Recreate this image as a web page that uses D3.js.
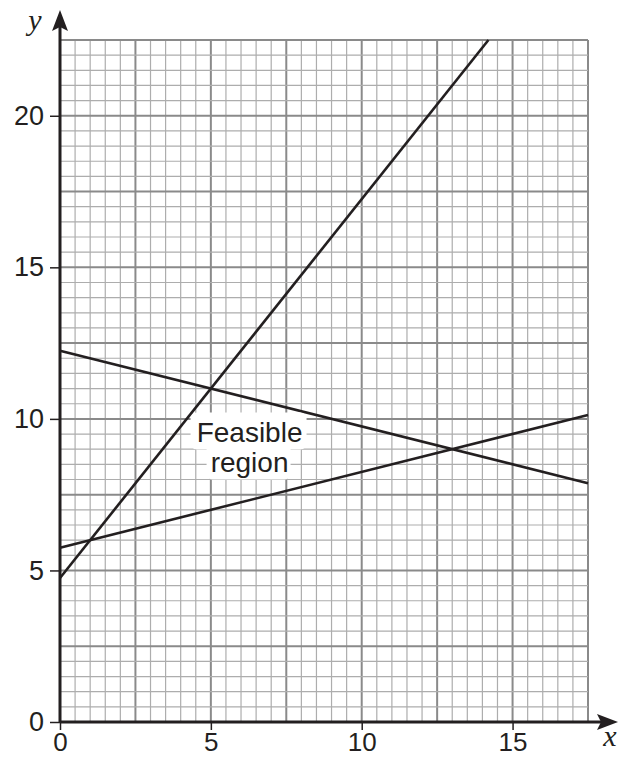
<!DOCTYPE html>
<html>
<head>
<meta charset="utf-8">
<script src="https://cdn.jsdelivr.net/npm/d3@7"></script>
<style>
  body { margin: 0; background: #fff; }
  svg text { font-family: "Liberation Sans", Arial, sans-serif; fill: #231f20; }
</style>
</head>
<body>
<div id="chart"></div>
<script>
// tick values
const xTicks = [0, 5, 10, 15];
const yTicks = [0, 5, 10, 15, 20];

// the three constraint lines, as endpoints
const steepLine = [[0, 4.75], [14.2, 22.5]];
const fallingLine = [[0, 12.25], [17.5, 7.875]];
const risingLine = [[0, 5.75], [17.5, 10.125]];

const labelLines = ['Feasible', 'region'];

const width = 619, height = 758;
const margin = { top: 40, right: 31, bottom: 36, left: 60 };

const svg = d3.select('#chart').append('svg')
    .attr('width', width)
    .attr('height', height);

const x = d3.scaleLinear().domain([0, 17.5]).range([margin.left, width - margin.right]);
const y = d3.scaleLinear().domain([0, 22.5]).range([height - margin.bottom, margin.top]);

// grid: small squares every 0.5, darker every 2.5
const minor = d3.range(0, 17.5001, 0.5);
const minorY = d3.range(0, 22.5001, 0.5);
const isMajor = v => Math.abs(v / 2.5 - Math.round(v / 2.5)) < 1e-6;

const grid = svg.append('g').attr('class', 'grid');
grid.selectAll('.vx')
    .data(minor)
    .join('line')
    .attr('x1', d => x(d)).attr('x2', d => x(d))
    .attr('y1', y(0)).attr('y2', y(22.5))
    .attr('stroke', d => isMajor(d) ? '#8a8a8a' : '#adadad')
    .attr('stroke-width', d => isMajor(d) ? 2 : 1.2);

grid.selectAll('.hy')
    .data(minorY)
    .join('line')
    .attr('y1', d => y(d)).attr('y2', d => y(d))
    .attr('x1', x(0)).attr('x2', x(17.5))
    .attr('stroke', d => isMajor(d) ? '#8a8a8a' : '#adadad')
    .attr('stroke-width', d => isMajor(d) ? 2 : 1.2);

// constraint lines
const line = d3.line().x(d => x(d[0])).y(d => y(d[1]));
svg.selectAll('.constraint')
    .data([steepLine, fallingLine, risingLine])
    .join('path')
    .attr('class', 'constraint')
    .attr('d', line)
    .attr('fill', 'none')
    .attr('stroke', '#231f20')
    .attr('stroke-width', 2.6);

// label with white background
const lx = x(6.25), ly = y(9.25);
const label = svg.append('g');
label.append('rect')
    .attr('x', lx - 58).attr('y', ly - 29)
    .attr('width', 116).attr('height', 37)
    .attr('rx', 6)
    .attr('fill', '#fff');
label.append('rect')
    .attr('x', lx - 42).attr('y', ly)
    .attr('width', 84).attr('height', 38)
    .attr('rx', 6)
    .attr('fill', '#fff');
label.selectAll('text')
    .data(labelLines)
    .join('text')
    .attr('x', lx + 1)
    .attr('y', (d, i) => ly + i * 30)
    .attr('text-anchor', 'middle')
    .style('font-size', '28px')
    .text(d => d);

// axes
const axisColor = '#231f20';
const tickFont = '"Liberation Sans", Arial, sans-serif';
svg.append('g')
    .attr('transform', `translate(0,${y(0)})`)
    .call(d3.axisBottom(x).tickValues(xTicks).tickSize(8).tickPadding(3))
    .call(g => g.select('.domain').remove())
    .call(g => g.selectAll('.tick line').attr('stroke', axisColor).attr('stroke-width', 1.5))
    .call(g => g.selectAll('.tick text').attr('fill', axisColor).style('font-size', '26px')
        .style('font-family', tickFont));

svg.append('g')
    .attr('transform', `translate(${x(0)},0)`)
    .call(d3.axisLeft(y).tickValues(yTicks).tickSize(10).tickPadding(6))
    .call(g => g.select('.domain').remove())
    .call(g => g.selectAll('.tick line').attr('stroke', axisColor).attr('stroke-width', 1.5))
    .call(g => g.selectAll('.tick text').attr('fill', axisColor).style('font-size', '27px')
        .style('font-family', tickFont));

// axis lines with arrow heads
svg.append('line')
    .attr('x1', x(0)).attr('x2', width - 14)
    .attr('y1', y(0)).attr('y2', y(0))
    .attr('stroke', axisColor).attr('stroke-width', 3);
svg.append('line')
    .attr('x1', x(0)).attr('x2', x(0))
    .attr('y1', y(0)).attr('y2', 24)
    .attr('stroke', axisColor).attr('stroke-width', 3);

svg.append('path')
    .attr('d', `M${width - 1},${y(0)} L${width - 22},${y(0) - 8} L${width - 18},${y(0)} L${width - 22},${y(0) + 8} Z`)
    .attr('fill', axisColor);
svg.append('path')
    .attr('d', `M${x(0)},10 L${x(0) - 8},31 L${x(0)},27 L${x(0) + 8},31 Z`)
    .attr('fill', axisColor);

svg.append('text')
    .attr('x', 35).attr('y', 30)
    .attr('text-anchor', 'middle')
    .style('font-family', '"Liberation Serif", "Times New Roman", serif')
    .style('font-style', 'italic')
    .style('font-size', '30px')
    .text('y');

svg.append('text')
    .attr('x', 610).attr('y', 746)
    .attr('text-anchor', 'middle')
    .style('font-family', '"Liberation Serif", "Times New Roman", serif')
    .style('font-style', 'italic')
    .style('font-size', '30px')
    .text('x');
</script>
</body>
</html>
